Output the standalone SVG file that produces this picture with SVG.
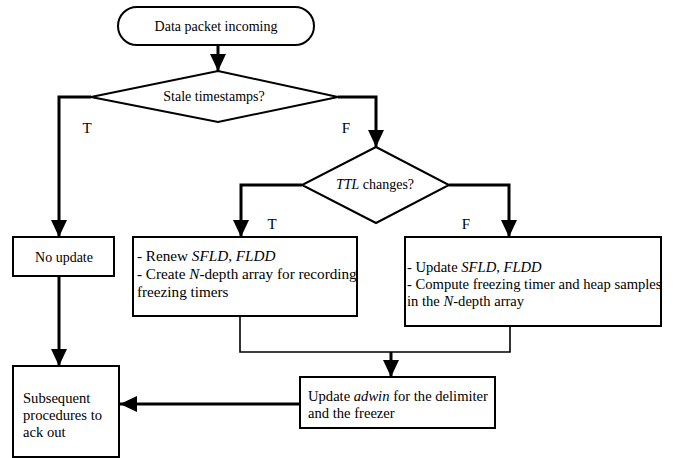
<svg xmlns="http://www.w3.org/2000/svg" width="674" height="458" viewBox="0 0 674 458">
<defs>
<style>
.box{fill:#fff;stroke:#000;stroke-width:2}
.t{font-family:"Liberation Serif","Times New Roman",serif;font-size:14px;fill:#000}
.b{font-size:14.6px}
.r{font-size:15.2px}
.l{font-size:15px}
.c{text-anchor:middle}
.i{font-style:italic}
.ln{fill:none;stroke:#000;stroke-width:3}
.thin{fill:none;stroke:#000;stroke-width:1.6}
</style>
<marker id="ah" markerUnits="userSpaceOnUse" markerWidth="18" markerHeight="17" refX="17" refY="8" orient="auto">
<path d="M0,0 L17,8 L0,16 z" fill="#000"/>
</marker>
</defs>
<rect width="674" height="458" fill="#fff"/>
<g id="connectors">
<path class="ln" d="M218,45 L218,71" marker-end="url(#ah)"/>
<path class="ln" d="M91,97 L59,97 L59,237" marker-end="url(#ah)"/>
<path class="ln" d="M338,97 L376,97 L376,147" marker-end="url(#ah)"/>
<path class="ln" d="M302,185 L241,185 L241,237" marker-end="url(#ah)"/>
<path class="ln" d="M449,185 L509,185 L509,237" marker-end="url(#ah)"/>
<path class="ln" d="M59,276 L59,366" marker-end="url(#ah)"/>
<path class="thin" d="M240,316 L240,352 L510,352 L510,326"/>
<path class="ln" d="M391,352 L391,377" marker-end="url(#ah)"/>
<path class="ln" d="M300,404 L120,404" marker-end="url(#ah)"/>
<text class="t l c" x="87" y="133">T</text>
<text class="t l c" x="346" y="133">F</text>
<text class="t l c" x="272" y="229">T</text>
<text class="t l c" x="466" y="229">F</text>
</g>
<g id="start">
<rect class="box" x="118" y="7" width="196" height="38" rx="19" ry="19"/>
<text class="t c" x="216" y="31">Data packet incoming</text>
</g>
<g id="stale">
<polygon class="box" points="218,71 338,97 218,122 91,97"/>
<text class="t c" x="214" y="101">Stale timestamps?</text>
</g>
<g id="ttl">
<polygon class="box" points="376,147 449,185 376,223 302,185"/>
<text class="t c" x="375" y="189"><tspan class="i">TTL</tspan> changes?</text>
</g>
<g id="noupdate">
<rect class="box" x="13" y="237" width="101" height="39"/>
<text class="t c" x="64" y="262">No update</text>
</g>
<g id="renew">
<rect class="box" x="133" y="237" width="224" height="79"/>
<text class="t r" x="137" y="261">- Renew <tspan class="i">SFLD</tspan>, <tspan class="i">FLDD</tspan></text>
<text class="t r" x="137" y="279">- Create <tspan class="i">N</tspan>-depth array for recording</text>
<text class="t r" x="137" y="297">freezing timers</text>
</g>
<g id="update">
<rect class="box" x="405" y="237" width="256" height="89"/>
<text class="t b" x="407" y="272">- Update <tspan class="i">SFLD</tspan>, <tspan class="i">FLDD</tspan></text>
<text class="t b" x="407" y="289">- Compute freezing timer and heap samples</text>
<text class="t b" x="407" y="306">in the <tspan class="i">N</tspan>-depth array</text>
</g>
<g id="adwin">
<rect class="box" x="300" y="377" width="195" height="51"/>
<text class="t b" x="308" y="401">Update <tspan class="i">adwin</tspan> for the delimiter</text>
<text class="t b" x="308" y="418">and the freezer</text>
</g>
<g id="subsequent">
<rect class="box" x="13" y="366" width="106" height="91"/>
<text class="t b" x="23" y="403">Subsequent</text>
<text class="t b" x="23" y="420">procedures to</text>
<text class="t b" x="23" y="437">ack out</text>
</g>
</svg>
